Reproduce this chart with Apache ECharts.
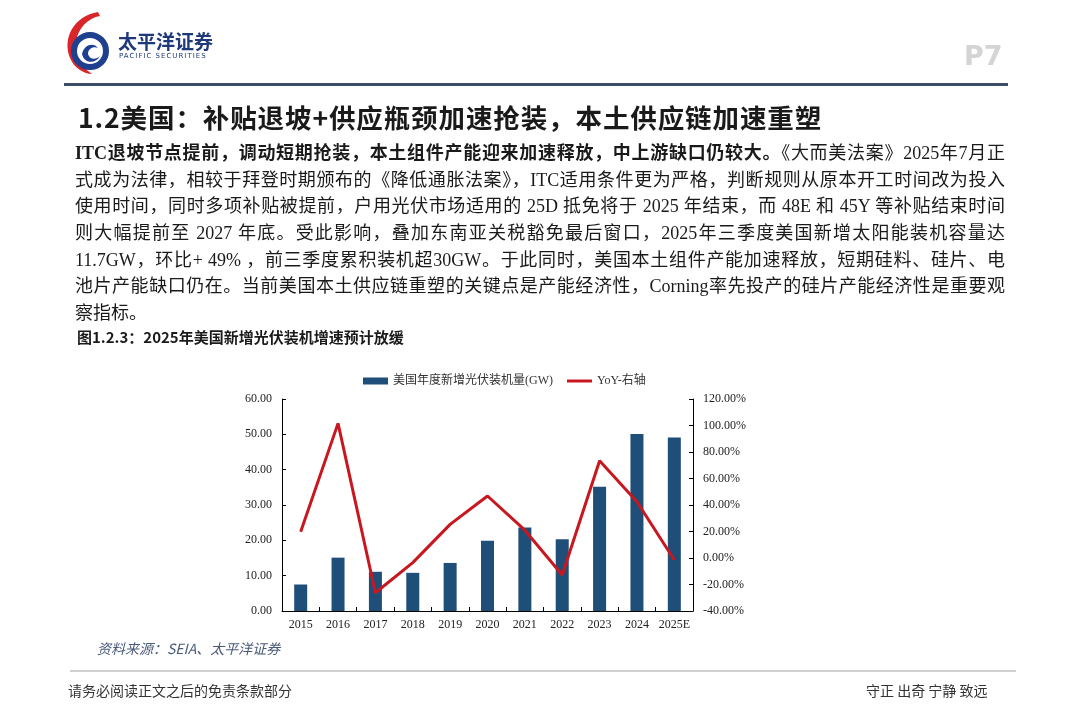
<!DOCTYPE html>
<html>
<head>
<meta charset="utf-8">
<script src="https://cdn.jsdelivr.net/npm/echarts@6/dist/echarts.min.js"></script>
<style>
html,body{margin:0;padding:0;background:#fff;}
#page{position:relative;width:1080px;height:722px;overflow:hidden;background:#fff;font-family:"Liberation Serif","Noto Sans CJK SC",serif;}
#chart{position:absolute;left:0;top:0;width:1080px;height:722px;}
.abs{position:absolute;white-space:nowrap;}
.para{position:absolute;left:75px;top:140px;width:930px;font-size:18px;color:#1a1a1a;}
.para div{height:26.7px;line-height:26.7px;text-align:justify;text-align-last:justify;white-space:nowrap;}
.para div.last{text-align-last:left;}
</style>
</head>
<body>
<div id="page">
  <div id="chart"></div>
  <svg class="abs" style="left:60px;top:8px" width="70" height="70" viewBox="0 0 70 70">
    <path d="M38 4 C14 8 2 30 10 50 C14 60 24 66 32 66 C20 58 14 46 16 34 C18 20 28 10 40 8 Z" fill="#d9262b"/>
    <circle cx="30" cy="43" r="16" fill="none" stroke="#1f3f8f" stroke-width="6"/>
    <path d="M22 46 C24 36 34 34 38 40 C34 38 28 40 28 46 C30 52 36 52 40 48 C36 56 24 56 22 46 Z" fill="#1f3f8f"/>
  </svg>
  <div class="abs" style="left:118px;top:30px;font-family:'Noto Sans CJK SC';font-weight:bold;font-size:19px;color:#1f3a7a;line-height:22px;">太平洋证券</div>
  <div class="abs" style="left:119px;top:52px;font-family:'DejaVu Sans';font-size:7px;color:#1f3a7a;letter-spacing:1px;line-height:8px;">PACIFIC SECURITIES</div>
  <div class="abs" style="left:964px;top:40px;font-family:'DejaVu Sans';font-weight:bold;font-size:27px;color:#d4d4d4;line-height:32px;">P7</div>
  <div class="abs" style="left:64px;top:83px;width:944px;height:3px;background:#3c4b66;"></div>
  <div class="abs" style="left:78px;top:100px;font-family:'Noto Sans CJK SC';font-weight:bold;font-size:26.5px;color:#1a1a1a;line-height:34px;letter-spacing:0.9px;">1.2美国：补贴退坡+供应瓶颈加速抢装，本土供应链加速重塑</div>
  <div class="para">
    <div><b>ITC退坡节点提前，调动短期抢装，本土组件产能迎来加速释放，中上游缺口仍较大。</b>《大而美法案》2025年7月正</div>
    <div>式成为法律，相较于拜登时期颁布的《降低通胀法案》，ITC适用条件更为严格，判断规则从原本开工时间改为投入</div>
    <div>使用时间，同时多项补贴被提前，户用光伏市场适用的 25D 抵免将于 2025 年结束，而 48E 和 45Y 等补贴结束时间</div>
    <div>则大幅提前至 2027 年底。受此影响，叠加东南亚关税豁免最后窗口，2025年三季度美国新增太阳能装机容量达</div>
    <div>11.7GW，环比+ 49% ，前三季度累积装机超30GW。于此同时，美国本土组件产能加速释放，短期硅料、硅片、电</div>
    <div>池片产能缺口仍在。当前美国本土供应链重塑的关键点是产能经济性，Corning率先投产的硅片产能经济性是重要观</div>
    <div class="last">察指标。</div>
  </div>
  <div class="abs" style="left:77px;top:327px;font-family:'Noto Sans CJK SC';font-weight:bold;font-size:15px;color:#1a1a1a;line-height:20px;">图1.2.3：2025年美国新增光伏装机增速预计放缓</div>
  <div class="abs" style="left:97px;top:638px;font-family:'Noto Sans CJK SC';font-style:italic;font-size:14px;color:#4a5a7a;line-height:20px;">资料来源：SEIA、太平洋证券</div>
  <div class="abs" style="left:70px;top:670px;width:946px;height:2px;background:#d0d0d0;"></div>
  <div class="abs" style="left:68px;top:680px;font-family:'Noto Sans CJK SC';font-size:14px;color:#333;line-height:20px;">请务必阅读正文之后的免责条款部分</div>
  <div class="abs" style="left:866px;top:680px;font-family:'Noto Sans CJK SC';font-size:14px;color:#333;line-height:20px;">守正 出奇 宁静 致远</div>
</div>
<script>
const categories = ['2015','2016','2017','2018','2019','2020','2021','2022','2023','2024','2025E'];
const installGW = [7.5, 15.1, 11.1, 10.8, 13.6, 19.9, 23.6, 20.3, 35.2, 50.1, 49.1];
const yoyPct = [19.8, 101.6, -26.2, -3.5, 25.4, 46.8, 21.0, -12.8, 73.4, 42.5, -1.5];
const barName = '美国年度新增光伏装机量(GW)';
const lineName = 'YoY-右轴';

const chart = echarts.init(document.getElementById('chart'), null, {renderer:'canvas'});
const labelFont = {fontFamily:'Liberation Serif', fontSize:12, color:'#222'};
const fix = v => (Math.abs(v) < 1e-9 ? 0 : v).toFixed(2);
chart.setOption({
  backgroundColor:'transparent',
  animation:false,
  legend:{
    left:358, top:370, itemWidth:25, itemHeight:7, itemGap:14,
    textStyle:{fontFamily:'Liberation Serif, Noto Sans CJK SC', fontSize:12, color:'#333'},
    data:[{name:barName, icon:'rect'}, {name:lineName, icon:'path://M0 0h25v3H0z'}]
  },
  grid:{left:282, right:387, top:399, bottom:111, containLabel:false},
  xAxis:{
    type:'category', data:categories,
    axisLine:{onZero:false, lineStyle:{color:'#000', width:1}},
    axisTick:{show:true, inside:true, length:4, lineStyle:{color:'#000'}},
    axisLabel:Object.assign({margin:8, interval:0}, labelFont)
  },
  yAxis:[
    {type:'value', min:0, max:60, interval:10, position:'left',
     axisLine:{show:true, onZero:false, lineStyle:{color:'#000'}},
     axisTick:{show:true, inside:true, length:4, lineStyle:{color:'#000'}},
     splitLine:{show:false},
     axisLabel:Object.assign({margin:10, formatter:v=>fix(v)}, labelFont)},
    {type:'value', min:-40, max:120, interval:20, position:'right',
     axisLine:{show:true, onZero:false, lineStyle:{color:'#000'}},
     axisTick:{show:true, inside:true, length:4, lineStyle:{color:'#000'}},
     splitLine:{show:false},
     axisLabel:Object.assign({margin:10, formatter:v=>fix(v)+'%'}, labelFont)}
  ],
  series:[
    {name:barName, type:'bar', data:installGW, barWidth:13, itemStyle:{color:'#1f4e79'}},
    {name:lineName, type:'line', yAxisIndex:1, data:yoyPct, symbol:'none',
     lineStyle:{color:'#c8171e', width:3}, itemStyle:{color:'#c8171e'}}
  ]
});
</script>
</body>
</html>
